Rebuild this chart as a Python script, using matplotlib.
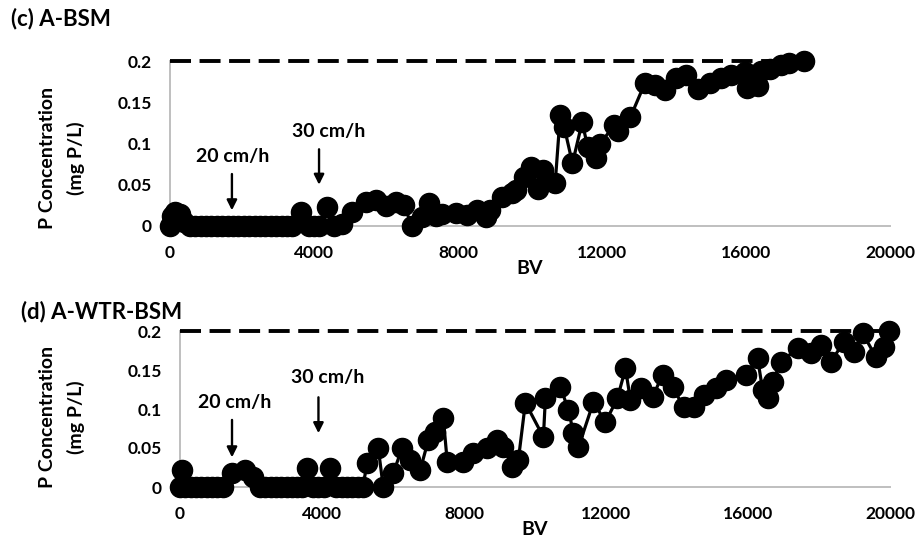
import matplotlib
matplotlib.use("Agg")
import matplotlib.pyplot as plt

plt.rcParams["font.family"] = ["Lato", "DejaVu Sans"]
plt.rcParams["font.weight"] = "bold"

# Breakthrough data, panel (c) A-BSM
bv_c = [0, 60, 150, 280, 400, 550, 700, 850, 1000, 1150, 1300, 1450, 1600, 1750,
        1900, 2050, 2200, 2350, 2500, 2650, 2800, 2950, 3100, 3250, 3400, 3650,
        3850, 4000, 4150, 4370, 4550, 4790, 5060, 5450, 5720, 6000, 6280, 6500,
        6720, 7000, 7190, 7390, 7550, 7940, 8240, 8520, 8770, 8900, 9210, 9490,
        9600, 9820, 10040, 10230, 10370, 10700, 10840, 10950, 11180, 11450, 11600,
        11820, 11950, 12340, 12450, 12790, 13190, 13470, 13750, 14050, 14330,
        14660, 14990, 15300, 15570, 15960, 16040, 16320, 16420, 16680, 16960,
        17200, 17620]
conc_c = [0, 0.012, 0.017, 0.014, 0.005, 0, 0, 0, 0, 0, 0, 0, 0, 0,
          0, 0, 0, 0, 0, 0, 0, 0, 0, 0, 0, 0.017,
          0, 0, 0, 0.023, 0, 0.003, 0.017, 0.029, 0.031, 0.024, 0.029, 0.025,
          0, 0.011, 0.028, 0.012, 0.014, 0.016, 0.013, 0.019, 0.011, 0.019, 0.035, 0.04,
          0.044, 0.06, 0.072, 0.045, 0.068, 0.052, 0.135, 0.12, 0.076, 0.126, 0.096,
          0.082, 0.1, 0.122, 0.115, 0.132, 0.173, 0.171, 0.165, 0.18, 0.183,
          0.166, 0.173, 0.18, 0.183, 0.187, 0.167, 0.17, 0.188, 0.19, 0.195,
          0.198, 0.2]

# Breakthrough data, panel (d) A-WTR-BSM
bv_d = [0, 56, 150, 300, 450, 600, 750, 900, 1050, 1200, 1466, 1833, 2059, 2250,
        2400, 2550, 2700, 2850, 3000, 3150, 3300, 3450, 3581, 3750, 3900, 4050,
        4230, 4400, 4550, 4700, 4850, 5000, 5150, 5273, 5584, 5725, 6007, 6260,
        6486, 6768, 6994, 7191, 7417, 7529, 7981, 8263, 8657, 8939, 9109, 9362,
        9532, 9729, 10237, 10293, 10716, 10942, 11083, 11224, 11647, 11985, 12323,
        12549, 12690, 12972, 13310, 13592, 13874, 14185, 14467, 14749, 15087,
        15369, 15933, 16271, 16412, 16553, 16694, 16920, 17399, 17766, 18048,
        18330, 18697, 18979, 19232, 19599, 19825, 19966]
conc_d = [0, 0.022, 0, 0, 0, 0, 0, 0, 0, 0, 0.018, 0.022, 0.013, 0,
          0, 0, 0, 0, 0, 0, 0, 0, 0.024, 0, 0, 0,
          0.024, 0, 0, 0, 0, 0, 0, 0.031, 0.05, 0, 0.018, 0.05,
          0.035, 0.022, 0.06, 0.07, 0.088, 0.032, 0.032, 0.044, 0.05, 0.06, 0.051, 0.026,
          0.035, 0.108, 0.064, 0.114, 0.128, 0.099, 0.069, 0.051, 0.109, 0.083, 0.114,
          0.152, 0.111, 0.127, 0.115, 0.144, 0.128, 0.103, 0.103, 0.118, 0.127,
          0.137, 0.144, 0.165, 0.124, 0.114, 0.135, 0.16, 0.178, 0.172, 0.182,
          0.16, 0.186, 0.173, 0.197, 0.167, 0.18, 0.2]

influent_conc = 0.2
x_ticks = [0, 4000, 8000, 12000, 16000, 20000]
y_ticks = [0, 0.05, 0.1, 0.15, 0.2]
y_tick_labels = ["0", "0.05", "0.1", "0.15", "0.2"]
titles = ["(c) A-BSM", "(d) A-WTR-BSM"]
rate_labels = ["20 cm/h", "30 cm/h"]

fig = plt.figure(figsize=(9.19, 5.4), dpi=100)
W, H = 919, 540


def px_axes(left, right, top, bottom):
    return fig.add_axes([left / W, 1 - bottom / H, (right - left) / W, (bottom - top) / H])


def draw_panel(ax, bv, conc, title, title_xy, ylabel_xy, arrows):
    ax.plot([0, bv[-1]], [influent_conc, influent_conc], color="black", lw=2.8,
            dashes=(5.4, 2.2), clip_on=False, zorder=2)
    ax.plot(bv, conc, color="black", lw=2.3, marker="o", ms=14.5,
            markerfacecolor="black", markeredgecolor="black", clip_on=False, zorder=3)
    ax.set_xlim(0, 20000)
    ax.set_ylim(0, 0.2)
    ax.set_xticks(x_ticks)
    ax.set_xticklabels([str(t) for t in x_ticks])
    ax.set_yticks(y_ticks)
    ax.set_yticklabels(y_tick_labels)
    ax.tick_params(axis="both", length=0, labelsize=12.5)
    ax.tick_params(axis="y", pad=13)
    ax.tick_params(axis="x", pad=14)
    for s in ("top", "right"):
        ax.spines[s].set_visible(False)
    for s in ("left", "bottom"):
        ax.spines[s].set_color("#bfbfbf")
        ax.spines[s].set_linewidth(1.4)
        ax.spines[s].set_zorder(1)
    ax.set_xlabel("BV", fontsize=14, fontweight="bold", labelpad=-1)
    fig.text(ylabel_xy[0] / W, 1 - ylabel_xy[1] / H, "P Concentration\n(mg P/L)",
             fontsize=14, fontweight="bold", rotation=90, ha="center", va="center",
             linespacing=1.75, multialignment="center")
    fig.text(title_xy[0] / W, 1 - title_xy[1] / H, title, fontsize=16,
             fontweight="bold", ha="left", va="center")
    for label, x, tip, tail, tx, ty in arrows:
        ax.annotate("", xy=(x, tip), xytext=(x, tail),
                    arrowprops=dict(arrowstyle="-|>", color="black", lw=1.7,
                                    mutation_scale=15, shrinkA=0, shrinkB=0))
        ax.text(tx, ty, label, fontsize=14, fontweight="bold",
                ha="center", va="center")


ax_c = px_axes(170, 890, 61, 226)
draw_panel(ax_c, bv_c, conc_c, titles[0], (11, 19), (62, 158),
           [(rate_labels[0], 1720, 0.019, 0.063, 1750, 0.084),
            (rate_labels[1], 4140, 0.050, 0.093, 4420, 0.114)])

ax_d = px_axes(180, 890, 331, 487)
draw_panel(ax_d, bv_d, conc_d, titles[1], (21, 312), (62, 417),
           [(rate_labels[0], 1465, 0.038, 0.086, 1550, 0.108),
            (rate_labels[1], 3900, 0.069, 0.115, 4170, 0.140)])

fig.savefig("out.png", dpi=100)
